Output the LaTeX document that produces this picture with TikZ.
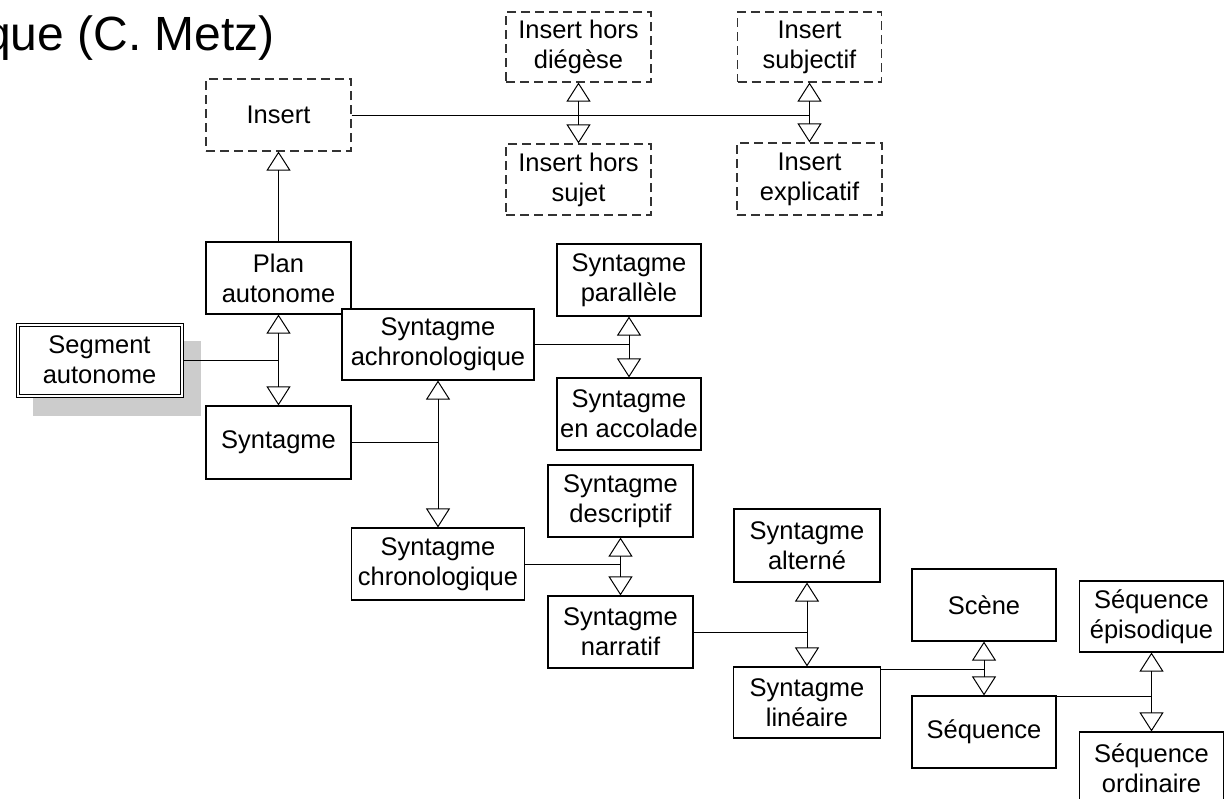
\documentclass[tikz,border=0pt]{standalone}
\usepackage{fontspec}
\setmainfont{Liberation Sans}
\usetikzlibrary{arrows.meta}
\definecolor{shadowgray}{HTML}{CCCCCC}
\begin{document}
\begin{tikzpicture}[x=1pt,y=-1pt,
  box/.style={draw=black, line width=1.1pt, fill=white, align=center, inner sep=0pt,
    minimum width=145pt, minimum height=72pt, font=\fontsize{25.5}{30}\selectfont},
  dbox/.style={box, draw=black!80, dash pattern=on 9pt off 5pt},
  link/.style={line width=1pt, draw=black},
  gen/.style={link, -{Triangle[open, width=24pt, length=19pt]}},
  titlefont/.style={font=\fontsize{48}{56}\selectfont}
]
\useasboundingbox (0,0) rectangle (1226,798);

% title (cut at the left edge, as in the reference)
\node[titlefont, anchor=base east, inner sep=0pt] (title) at (275,50) {que (C. Metz)};

% shadow of Segment autonome
\fill[shadowgray] (33,341) rectangle (201,416);

% Insert family (dashed)
\node[dbox] (ins) at (278.5,115) {Insert};
\node[dbox, minimum height=70pt] (hd) at (578.5,47) {Insert hors\\diégèse};
\node[dbox, minimum height=71pt] (hs) at (578.5,179.5) {Insert hors\\sujet};
\node[dbox, minimum width=144pt, minimum height=70pt] (sub) at (809.5,47) {Insert\\subjectif};
\node[dbox] (exp) at (809.5,179) {Insert\\explicatif};

% main boxes
\node[box] (plan) at (278.5,278) {Plan\\autonome};
\node[box, minimum width=167pt, minimum height=74pt, line width=1pt] (seg) at (99.5,360) {Segment\\autonome};
\draw[line width=1pt] ([shift={(3.5pt,-3.5pt)}]seg.north west) rectangle ([shift={(-3.5pt,3.5pt)}]seg.south east);
\node[box, minimum height=73pt] (syn) at (278.5,442.5) {Syntagme};
\node[box, minimum width=192pt, minimum height=71pt] (achro) at (438,344.5) {Syntagme\\achronologique};
\node[box, minimum width=144pt] (para) at (629,280) {Syntagme\\parallèle};
\node[box, minimum width=144pt] (acc) at (629,414) {Syntagme\\en accolade};
\node[box, minimum width=173pt] (chrono) at (438,564) {Syntagme\\chronologique};
\node[box] (desc) at (620.5,501) {Syntagme\\descriptif};
\node[box] (narr) at (620.5,632) {Syntagme\\narratif};
\node[box, minimum width=146pt, minimum height=73pt] (alt) at (807,545.5) {Syntagme\\alterné};
\node[box, minimum width=147pt, minimum height=71pt] (lin) at (807,702.5) {Syntagme\\linéaire};
\node[box, minimum width=144pt] (scene) at (984,605) {Scène};
\node[box, minimum width=144pt] (seq) at (984,732) {Séquence};
\node[box, minimum width=144pt, minimum height=71pt] (epis) at (1151.5,616.5) {Séquence\\épisodique};
\node[box, minimum width=144pt] (ord) at (1151.5,768) {Séquence\\ordinaire};

% Insert connectors
\draw[gen] (plan.north) -- (ins.south);
\coordinate (jA) at (hd.south |- ins.east);
\coordinate (jB) at (sub.south |- ins.east);
\draw[link] (ins.east) -- (jB);
\draw[gen] (jA) -- (hd.south);
\draw[gen] (jA) -- (hs.north);
\draw[gen] (jB) -- (sub.south);
\draw[gen] (jB) -- (exp.north);

% Segment autonome
\coordinate (jC) at (plan.south |- seg.east);
\draw[link] (seg.east) -- (jC);
\draw[gen] (jC) -- (plan.south);
\draw[gen] (jC) -- (syn.north);

% Syntagme
\coordinate (jD) at (achro.south |- syn.east);
\draw[link] (syn.east) -- (jD);
\draw[gen] (jD) -- (achro.south);
\draw[gen] (jD) -- (chrono.north);

% Syntagme achronologique
\coordinate (jE) at (para.south |- achro.east);
\draw[link] (achro.east) -- (jE);
\draw[gen] (jE) -- (para.south);
\draw[gen] (jE) -- (acc.north);

% Syntagme chronologique
\coordinate (jF) at (narr.north |- chrono.east);
\draw[link] (chrono.east) -- (jF);
\draw[gen] (jF) -- (desc.south);
\draw[gen] (jF) -- (narr.north);

% Syntagme narratif
\coordinate (jG) at (alt.south |- narr.east);
\draw[link] (narr.east) -- (jG);
\draw[gen] (jG) -- (alt.south);
\draw[gen] (jG) -- (lin.north);

% Syntagme lineaire
\coordinate (lin0) at ([yshift=-3pt]lin.north east);
\coordinate (jH) at (scene.south |- lin0);
\draw[link] (lin0) -- (jH);
\draw[gen] (jH) -- (scene.south);
\draw[gen] (jH) -- (seq.north);

% Sequence
\coordinate (seq0) at ([yshift=-1pt]seq.north east);
\coordinate (jI) at (epis.south |- seq0);
\draw[link] (seq0) -- (jI);
\draw[gen] (jI) -- (epis.south);
\draw[gen] (jI) -- (ord.north);
\end{tikzpicture}
\end{document}
